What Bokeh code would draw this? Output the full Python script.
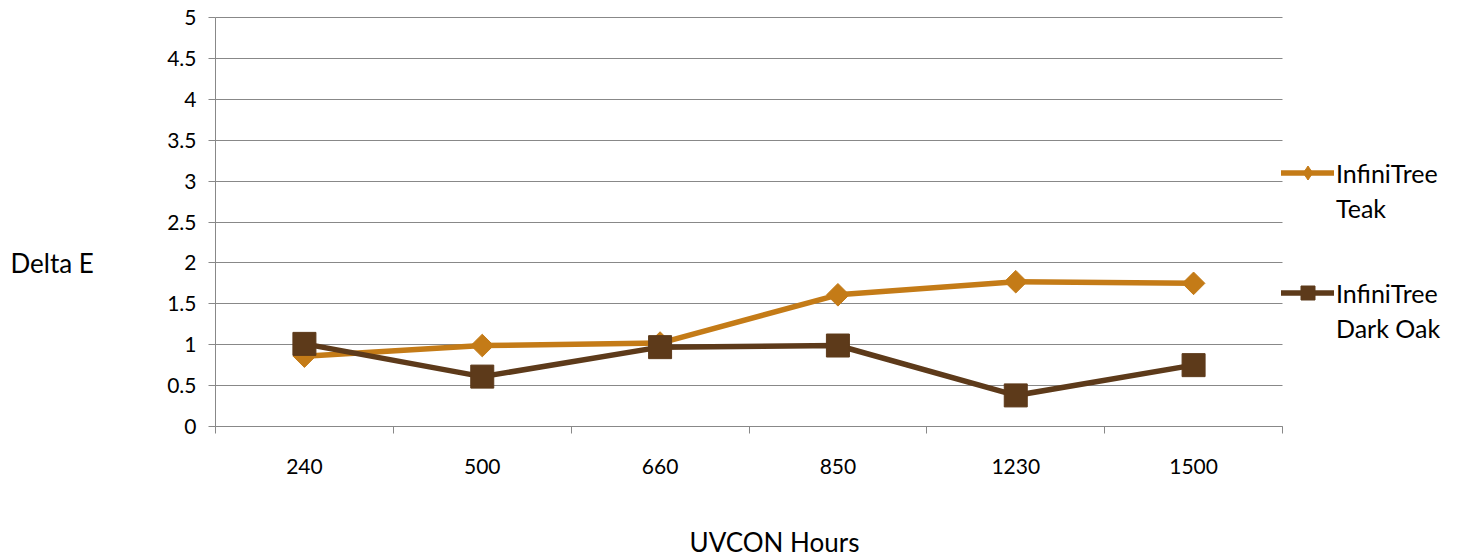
import numpy as np
from bokeh.plotting import figure
from bokeh.models import (Range1d, FixedTicker, Legend, LegendItem, Label)
from bokeh.embed import file_html
from bokeh.resources import INLINE

# ---- data ----
hours = ["240", "500", "660", "850", "1230", "1500"]
teak = [0.86, 0.99, 1.02, 1.61, 1.77, 1.75]
dark_oak = [1.01, 0.61, 0.97, 0.99, 0.38, 0.75]
y_ticks = [0, 0.5, 1, 1.5, 2, 2.5, 3, 3.5, 4, 4.5, 5]
y_tick_labels = ["0", "0.5", "1", "1.5", "2", "2.5", "3", "3.5", "4", "4.5", "5"]
series_names = [("InfiniTree", "Teak"), ("InfiniTree", "Dark Oak")]
x_title = "UVCON Hours"
y_title = "Delta E"

TEAK = "#C47B17"
OAK = "#5D3A1A"
GRID = "#888888"
FONT = "Lato"

n = len(hours)
xs = [i + 0.5 for i in range(n)]
y_max = y_ticks[-1]

# canvas and where the axes box sits in it (pixels)
W, H = 1460, 558
BOX_L, BOX_R, BOX_T, BOX_B = 215, 1282, 17, 426
sx = (BOX_R - BOX_L) / n
sy = (BOX_B - BOX_T) / y_max

p = figure(width=W, height=H, output_backend="svg", toolbar_location=None,
           x_range=Range1d(-BOX_L / sx, n + (W - BOX_R) / sx),
           y_range=Range1d(-(H - BOX_B) / sy, y_max + BOX_T / sy),
           min_border=0)
p.outline_line_color = None
p.background_fill_color = "white"
p.border_fill_color = "white"

# x axis: labels at category centres, ticks at boundaries
xax = p.xaxis[0]
xax.fixed_location = 0
xax.bounds = (0, n)
xax.ticker = FixedTicker(ticks=xs, minor_ticks=list(range(n + 1)))
xax.major_label_overrides = {x: h for x, h in zip(xs, hours)}
xax.major_tick_out = 0
xax.major_tick_in = 0
xax.minor_tick_out = 7
xax.minor_tick_in = 0
xax.minor_tick_line_color = GRID
xax.axis_line_color = GRID
xax.major_label_standoff = 25
xax.major_label_text_font = FONT
xax.major_label_text_font_size = "21px"
xax.major_label_text_color = "#000000"

yax = p.yaxis[0]
yax.fixed_location = 0
yax.bounds = (0, y_max)
yax.ticker = FixedTicker(ticks=y_ticks, minor_ticks=[])
yax.major_label_overrides = {t: l for t, l in zip(y_ticks, y_tick_labels)}
yax.major_tick_out = 7
yax.major_tick_in = 0
yax.major_tick_line_color = GRID
yax.axis_line_color = GRID
yax.major_label_standoff = 12
yax.major_label_text_font = FONT
yax.major_label_text_font_size = "21px"
yax.major_label_text_color = "#000000"

p.xgrid.visible = False
p.ygrid.ticker = FixedTicker(ticks=y_ticks)
p.ygrid.bounds = (0, y_max)
p.ygrid.cross_bounds = (0, n)
p.ygrid.grid_line_color = GRID
p.ygrid.grid_line_width = 1

# series
tl = p.line(xs, teak, line_color=TEAK, line_width=5.5, line_join="round", line_cap="round")
tm = p.scatter(xs, teak, marker="square", angle=np.pi / 4, size=16,
               fill_color=TEAK, line_color=TEAK)
ol = p.line(xs, dark_oak, line_color=OAK, line_width=5.5, line_join="round", line_cap="round")
om = p.scatter(xs, dark_oak, marker="square", size=23, fill_color=OAK, line_color=OAK)
# legend-only glyphs (one non-drawn point so the legend has a marker to show)
t_leg = p.scatter([np.nan], [np.nan], marker="diamond", fill_color=TEAK, line_color=TEAK)
o_leg = p.scatter([np.nan], [np.nan], marker="square", fill_color=OAK, line_color=OAK)
dummy = p.line([], [], line_alpha=0)

def make_legend(rs, names, top):
    items = [LegendItem(label=names[0], renderers=rs),
             LegendItem(label=names[1], renderers=[dummy])]
    return Legend(items=items, location=(BOX_R - 1, H - (top + 70)),
                  padding=0, margin=0, spacing=0,
                  border_line_color=None, background_fill_alpha=0,
                  glyph_width=53, glyph_height=35, label_height=35, label_standoff=2,
                  label_text_font=FONT, label_text_font_size="25px",
                  label_text_color="#000000")

p.add_layout(make_legend([tl, t_leg], series_names[0], 155))
p.add_layout(make_legend([ol, o_leg], series_names[1], 275))

# axis titles
p.add_layout(Label(x=-(BOX_L - 10) / sx, y=2.0, text=y_title, text_font=FONT,
                   text_font_size="26px", text_align="left", text_baseline="middle",
                   text_color="#000000"))
p.add_layout(Label(x=(774 - BOX_L) / sx, y=-(541 - BOX_B) / sy, text=x_title,
                   text_font=FONT, text_font_size="26px", text_align="center",
                   text_baseline="middle", text_color="#000000"))

open("out.html", "w").write(file_html(p, INLINE))
